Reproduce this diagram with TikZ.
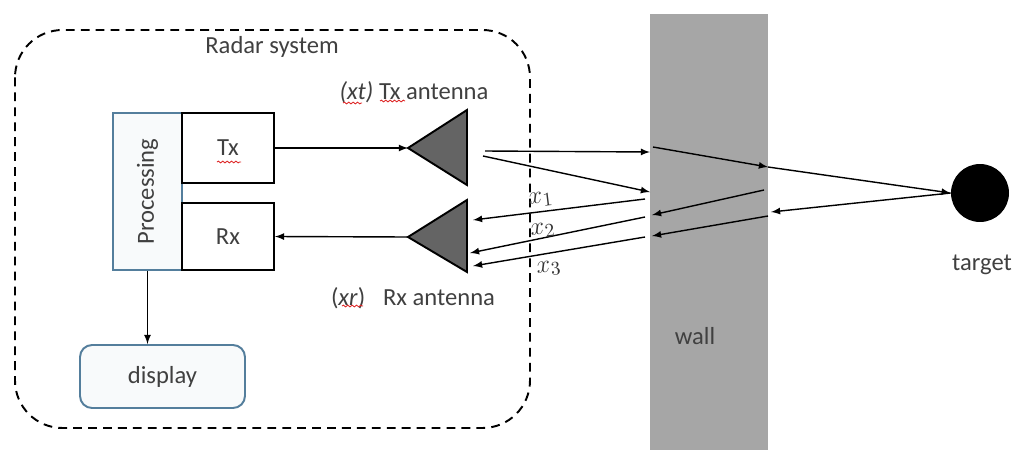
\documentclass[tikz,border=0pt]{standalone}
\usepackage{fontspec}
\setmainfont{Carlito}
\usetikzlibrary{arrows,decorations.pathmorphing}
\definecolor{steel}{RGB}{84, 126, 156}
\definecolor{slate}{RGB}{64, 64, 64}
\definecolor{wallgray}{RGB}{166, 166, 166}
\definecolor{antgray}{RGB}{100, 100, 100}
\definecolor{spellred}{RGB}{222, 40, 40}

\tikzset{
    lbl/.style={text=slate, font=\fontsize{14}{16}\selectfont, inner sep=1pt},
    distlbl/.style={text=black!80, font=\fontsize{15}{17}\selectfont, inner sep=0pt, rotate=7},
    blockbox/.style={draw=black, line width=1.1pt, fill=white, minimum width=1.84cm},
    procbox/.style={draw=steel, line width=1.1pt, fill=steel!4, minimum width=1.38cm, minimum height=3.14cm},
    ray/.style={-latex, line width=0.8pt},
    squig/.style={spellred, line width=0.5pt, decorate, decoration={snake, amplitude=0.5pt, segment length=2.5pt}}
}

\begin{document}
\begin{tikzpicture}[x=0.02cm, y=-0.02cm]
            \useasboundingbox (0,0) rectangle (1022,450);
            % radar enclosure and wall
            \draw[line width=1.1pt, dash pattern=on 5pt off 3.5pt, rounded corners=0.95cm] (15,30) rectangle (530,428);
            \fill[wallgray] (650,14) rectangle (768,450);
            \node[lbl] (radar) at (272,47) {Radar system};
            \node[lbl] (wall)  at (695,336) {wall};

            % processing chain
            \node[procbox] (proc) at (147.5,191.5) {};
            \node[lbl, rotate=90] at (proc.center) {Processing};
            \node[blockbox, lbl, minimum height=1.40cm] (tx) at (228,148)   {Tx};
            \node[blockbox, lbl, minimum height=1.34cm] (rx) at (228,236.5) {Rx};
            \node[draw=steel, line width=1.1pt, fill=steel!4, rounded corners=0.24cm,
                  minimum width=3.3cm, minimum height=1.26cm, lbl] (disp) at (162.5,376.5) {display};
            \draw[ray] (proc.south) -- (proc.south |- disp.north);

            % antennas
            \filldraw[fill=antgray, draw=black, line width=1.1pt] (408,148) -- (467,110) -- (467,185) -- cycle;
            \filldraw[fill=antgray, draw=black, line width=1.1pt] (408,237) -- (467,200) -- (467,272) -- cycle;
            \coordinate (txtip) at (408,148);
            \coordinate (rxtip) at (408,237);
            \node[lbl] (txlbl) at (414,92)  {\itshape(xt)\upshape\ Tx antenna};
            \node[lbl] (rxlbl) at (413,298) {(\textit{xr})\hspace{0.5em} Rx antenna};
            \draw[ray] (tx.east) -- (txtip);
            \draw[ray] (rxtip) -- (rx.east);

            % target
            \node[circle, fill=black, minimum size=1.16cm, inner sep=0pt] (tgt) at (980,193) {};
            \node[lbl] (tgtlbl) at (982,265) {target};

            % ray end points
            \coordinate (ta) at (485,151);  \coordinate (wa) at (650,152);
            \coordinate (tb) at (483,156);  \coordinate (wb) at (650,192);
            \coordinate (wc) at (653,147);  \coordinate (wd) at (768,167);
            \coordinate (we) at (771,212);
            \coordinate (wf) at (764,190);  \coordinate (wg) at (652,215);
            \coordinate (wh) at (768,216);  \coordinate (wi) at (652,236);
            \coordinate (ra) at (645,199);  \coordinate (ea) at (473,220);
            \coordinate (rb) at (645,217);  \coordinate (eb) at (470,253);
            \coordinate (rc) at (645,237);  \coordinate (ec) at (473,266);

            \draw[ray] (ta) -- (wa);
            \draw[ray] (tb) -- (wb);
            \draw[ray] (wc) -- (wd);
            \draw[ray] (wd) -- (tgt.west);
            \draw[ray] (tgt.west) -- (we);
            \draw[ray] (wf) -- (wg);
            \draw[ray] (wh) -- (wi);
            \draw[ray] (ra) -- (ea);
            \draw[ray] (rb) -- (eb);
            \draw[ray] (rc) -- (ec);
            \node[distlbl] (xa) at (541,199) {$x_1$};
            \node[distlbl] (xb) at (543,230) {$x_2$};
            \node[distlbl] (xc) at (549,268) {$x_3$};

            % spelling marks
            \draw[squig] (217,162) -- (241,162);
            \draw[squig] (343,103) -- (362,103);
            \draw[squig] (380,101) -- (405,101);
            \draw[squig] (342,306) -- (363,306);
        \end{tikzpicture}
\end{document}
